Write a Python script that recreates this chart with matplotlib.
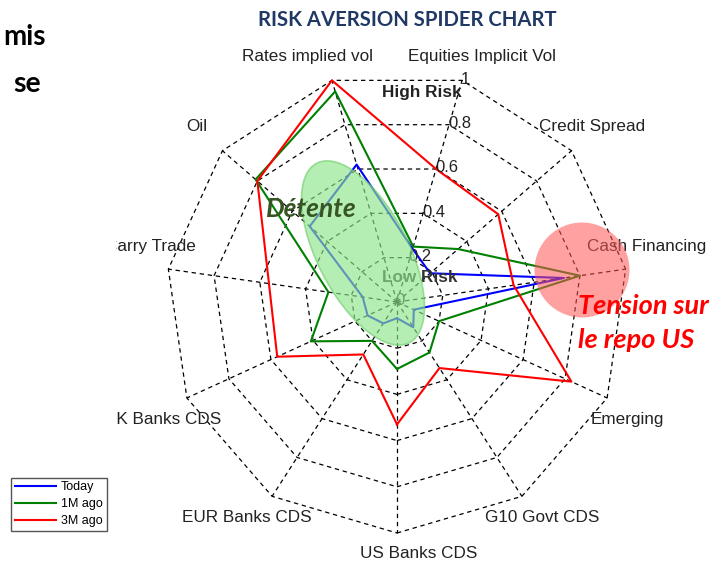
import matplotlib
matplotlib.use("Agg")
import numpy as np
import matplotlib.pyplot as plt
from matplotlib.patches import Ellipse, Circle, Rectangle
from matplotlib.lines import Line2D

# ---------------- data ----------------
categories = ["US Banks CDS", "G10 Govt CDS", "Emerging", "Cash Financing",
              "Credit Spread", "Equities Implicit Vol", "Rates implied vol",
              "Oil", "Carry Trade", "UK Banks CDS", "EUR Banks CDS"]
today = [0.07, 0.13, 0.08, 0.73, 0.19, 0.24, 0.62, 0.50, 0.15, 0.14, 0.11]
one_month = [0.29, 0.26, 0.20, 0.80, 0.35, 0.25, 0.95, 0.81, 0.30, 0.41, 0.20]
three_months = [0.53, 0.34, 0.83, 0.51, 0.58, 0.60, 1.00, 0.80, 0.56, 0.57, 0.27]
series_names = ["Today", "1M ago", "3M ago"]
ring_levels = [0.2, 0.4, 0.6, 0.8, 1.0]
ring_tick_labels = ["0", "0.2", "0.4", "0.6", "0.8", "1"]

# ---------------- layout ----------------
W, H = 722, 563
fig = plt.figure(figsize=(W / 100, H / 100), dpi=100)
cx, cy, R = 397, 302, 231  # centre and unit radius in pixels
ax = fig.add_axes([0, 0, 1, 1])
ax.set_xlim(-cx / R, (W - cx) / R)
ax.set_ylim(-(H - cy) / R, cy / R)
ax.axis("off")


def px(x, y):
    """pixel position (from top-left) -> data coords"""
    return (x - cx) / R, (cy - y) / R


n = len(categories)
angles = -np.pi / 2 + 2 * np.pi * np.arange(n) / n


def closed_xy(vals):
    v = np.asarray(vals, dtype=float)
    x = v * np.cos(angles)
    y = v * np.sin(angles)
    return np.append(x, x[0]), np.append(y, y[0])


label_font = "Liberation Sans"
dash = (0, (3.5, 3))

# grid rings
for lev in ring_levels:
    gx, gy = closed_xy([lev] * n)
    ax.plot(gx, gy, color="black", lw=0.9, ls=dash, zorder=1)
# spokes
for a in angles:
    ax.plot([0, np.cos(a)], [0, np.sin(a)], color="black", lw=0.9, ls=dash, zorder=1)

# series
colors = ["#0000ff", "#008000", "#ff0000"]
for vals, col, name in zip([today, one_month, three_months], colors, series_names):
    sx, sy = closed_xy(vals)
    ax.plot(sx, sy, color=col, lw=1.5, label=name, zorder=3)

# ring tick labels along the Equities axis
eq_idx = categories.index("Equities Implicit Vol")
ea = angles[eq_idx]
for lev, lab in zip([0] + ring_levels, ring_tick_labels):
    ax.text(lev * np.cos(ea) - 0.005, lev * np.sin(ea) + 0.005, lab,
            ha="left", va="center", fontsize=12, family=label_font,
            color="#222222", zorder=4)

# category labels (pixel centres)
label_px = {
    "US Banks CDS": (419, 553),
    "G10 Govt CDS": (542, 518),
    "Emerging": (627, 420),
    "Cash Financing": (647, 247),
    "Credit Spread": (592, 127),
    "Equities Implicit Vol": (482, 57),
    "Rates implied vol": (307, 57),
    "Oil": (197, 127),
    "Carry Trade": (150, 247),
    "UK Banks CDS": (163, 420),
    "EUR Banks CDS": (247, 518),
}
for cat in categories:
    lx, ly = px(*label_px[cat])
    ax.text(lx, ly, cat, ha="center", va="center", fontsize=12.3,
            family=label_font, color="#222222", zorder=4)

ax.text(*px(422, 93), "High Risk", ha="center", va="center", fontsize=12.3,
        family=label_font, fontweight="bold", color="#222222", zorder=4)
ax.text(*px(420, 278), "Low Risk", ha="center", va="center", fontsize=12.3,
        family=label_font, fontweight="bold", color="#333333", zorder=4)

# highlight shapes
ell = Ellipse(px(363, 253), width=91 / R, height=202 / R, angle=27.3,
              facecolor="#8ee68a", edgecolor="#6fcf6b", lw=1.2, alpha=0.65, zorder=5)
ax.add_patch(ell)
circ = Circle(px(582, 270), radius=47.5 / R, facecolor="#ff5555", edgecolor="none",
              alpha=0.55, zorder=5)
ax.add_patch(circ)

ax.text(*px(311, 209), "Détente", ha="center", va="center", fontsize=19,
        family="Lato", fontweight="bold", fontstyle="italic", color="#375522", zorder=6)
ax.text(*px(578, 306), "Tension sur", ha="left", va="center", fontsize=19.5,
        family="Lato", fontweight="bold", fontstyle="italic", color="#ff0000", zorder=6)
ax.text(*px(578, 340), "le repo US", ha="left", va="center", fontsize=19.5,
        family="Lato", fontweight="bold", fontstyle="italic", color="#ff0000", zorder=6)

# white box of the slide covering the left edge
fig.add_artist(Rectangle((0, (H - 455) / H), 116 / W, 455 / H, transform=fig.transFigure,
                         facecolor="white", edgecolor="none", zorder=2))
fig.text(3 / W, 1 - 37 / H, "mis", ha="left", va="center", fontsize=20,
         family="Lato", fontweight="bold", color="black", zorder=3)
fig.text(41 / W, 1 - 84 / H, "se", ha="right", va="center", fontsize=20.5,
         family="Lato", fontweight="bold", color="black", zorder=3)

# title
fig.text(407 / W, 1 - 20 / H, "RISK AVERSION SPIDER CHART", ha="center", va="center",
         fontsize=14.6, family="Lato", fontweight="bold", color="#1f3864", zorder=3)

# legend
handles = [Line2D([], [], color=c, lw=1.5) for c in colors]
leg = fig.legend(handles, series_names, loc="lower left",
                 bbox_to_anchor=(11 / W, (H - 531) / H), borderaxespad=0,
                 prop={"family": label_font, "size": 9}, frameon=True,
                 fancybox=False, edgecolor="#555555", framealpha=1,
                 handlelength=3.3, handletextpad=0.4, labelspacing=0.4,
                 borderpad=0.3)
leg.get_frame().set_linewidth(1.0)
leg.set_zorder(5)

fig.savefig("out.png", dpi=100)
